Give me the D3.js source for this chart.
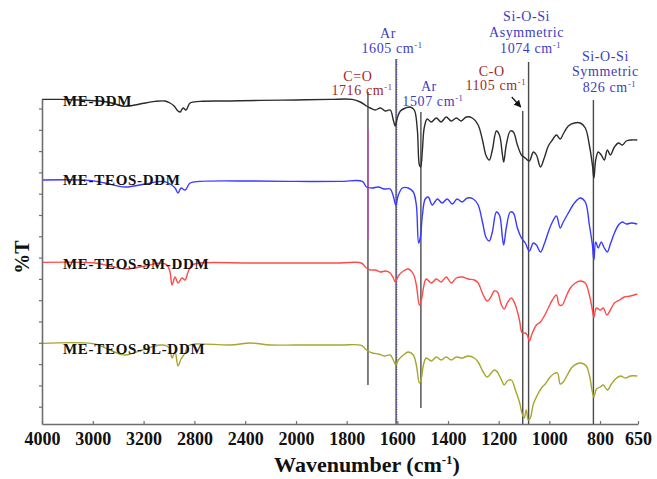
<!DOCTYPE html>
<html>
<head>
<meta charset="utf-8">
<script src="https://cdn.jsdelivr.net/npm/d3@7"></script>
<style>
  body { margin: 0; background: #fff; }
  svg { display: block; }
  text { font-family: "Liberation Serif", "Times New Roman", serif; }
</style>
</head>
<body>
<svg id="chart" width="657" height="479"></svg>
<script>
// FTIR spectra: [wavenumber (cm-1), %T with stacking offset]
const meDDM = [
  [4000,162.3],[3860,162.3],[3702,162],[3544,161.5],[3450,160.5],[3347,158.8],[3229,160],[3110,161.3],
  [3031,161.5],[2992,160.5],[2960,159],[2929,156.5],[2913,156],[2889,158],[2866,157],[2834,160.5],
  [2755,161.3],[2518,161.5],[2281,161.8],[2000,162],[1865,162.3],[1778,162.3],[1746,161],[1722,159],
  [1707,158],[1687,157],[1667,158],[1647,156.5],[1628,157],[1616,152],[1608,149],[1600,153],
  [1588,156.5],[1568,158],[1549,158.5],[1533,157],[1521,147],[1513,129.5],[1508,128.5],[1501,137],
  [1494,148],[1482,152.5],[1466,151],[1446,153],[1427,151],[1407,153.5],[1387,151.5],[1367,153],
  [1348,151.5],[1328,153.5],[1304,153],[1281,149.5],[1264,142],[1249,134],[1237,132],[1225,137],
  [1209,146.5],[1197,144.5],[1185,134.5],[1180,131],[1170,139.5],[1154,146.5],[1142,146],[1126,139.5],
  [1110,134.5],[1095,133],[1079,131.5],[1063,136],[1051,134.5],[1035,128.5],[1020,133],[1004,139],
  [988,142],[972,144.5],[957,142.5],[945,145],[925,149],[901,150.5],[878,150.5],[858,148],
  [842,139.5],[830,129.5],[824,123],[817,132],[807,136],[795,134.5],[783,132],[771,137],
  [759,134.5],[743,138.5],[727,140.5],[712,139.5],[696,141.5],[676,142],[653,142]
];
const meTeosDDM = [
  [4000,122],[3623,121.8],[3505,120.5],[3347,118.5],[3189,120],[3047,121.3],[2992,120],[2952,118],
  [2929,115.5],[2905,118],[2873,117],[2834,120.5],[2755,121.3],[2360,121.5],[2000,121.3],[1825,121.3],
  [1738,121.3],[1722,118.5],[1699,118],[1675,118.5],[1651,117.5],[1628,117.5],[1616,114],[1606,109.5],
  [1596,114.5],[1580,118],[1557,118],[1537,116],[1525,109.5],[1516,90.5],[1509,93.5],[1501,104.5],
  [1490,112.5],[1478,113.5],[1462,109.5],[1442,112.5],[1423,110.5],[1403,112.5],[1383,110],[1364,112.5],
  [1344,111],[1324,113],[1300,112.5],[1281,109.5],[1264,101],[1249,93],[1237,91.5],[1225,96],
  [1209,106],[1197,104.5],[1185,93],[1180,89.5],[1170,98],[1154,106],[1142,105.5],[1126,98],
  [1110,93],[1095,90.5],[1079,86.5],[1063,90.5],[1051,89.5],[1035,86],[1020,90],[1004,96],
  [988,101],[972,104],[957,98],[945,101],[925,105.5],[901,110.5],[878,113],[858,111],
  [842,99.5],[830,89.5],[824,82],[817,91],[807,88],[795,91],[783,88],[771,86],
  [759,90],[743,95.5],[727,99.5],[712,101],[696,100],[676,100.5],[653,100]
];
const meTeos9mDDM = [
  [4000,80.8],[3584,80.5],[3466,79],[3347,77.5],[3189,79],[3071,80.5],[3016,79.5],[2992,76],
  [2976,69.5],[2952,73.5],[2929,70.5],[2897,73],[2873,72],[2850,76],[2818,79.5],[2755,80.5],
  [2360,80.5],[2000,80.5],[1825,80.5],[1742,80.5],[1722,78],[1707,77],[1687,77],[1667,76],
  [1647,76.5],[1628,75.5],[1616,73],[1608,71],[1596,74],[1576,76.5],[1557,77.5],[1537,75],
  [1525,69.5],[1513,59.5],[1505,62],[1497,68],[1486,72.5],[1466,70.5],[1446,72.5],[1427,71],
  [1407,73.5],[1387,70.5],[1367,73],[1344,73.5],[1320,72.5],[1296,72],[1281,70.5],[1261,64.5],
  [1245,61.5],[1233,63],[1217,66.5],[1205,66],[1189,59.5],[1178,57.5],[1166,60.5],[1150,63],
  [1134,59.5],[1118,52],[1107,45.5],[1095,45.5],[1087,44.5],[1079,41.5],[1067,45.5],[1051,49.5],
  [1035,51],[1020,54],[1004,58],[988,62],[972,64.5],[961,59.5],[949,59.5],[933,64],
  [917,68],[897,70.5],[878,71.5],[858,70.5],[842,64.5],[830,57],[824,53.5],[814,58],
  [799,57],[787,58],[773,54.5],[759,57],[743,60.5],[723,62],[704,63.5],[680,64],[653,65]
];
const meTeos9lDDM = [
  [4000,40.3],[3584,40],[3466,37],[3347,34.5],[3189,37.5],[3071,39.5],[3016,39],[2992,37],
  [2976,33],[2952,36],[2929,29],[2905,32.5],[2873,35.5],[2850,39],[2795,40],[2518,39.5],
  [2360,40.5],[2202,39.5],[2000,39.5],[1825,39.5],[1742,39.3],[1722,37],[1699,35.5],[1675,35],
  [1651,34],[1628,34.5],[1616,32],[1606,29.5],[1596,32],[1576,34.5],[1557,36],[1537,34.5],
  [1525,29.5],[1513,20.5],[1505,23],[1497,29.5],[1486,33],[1466,31.5],[1446,33.5],[1427,32],
  [1407,33.5],[1387,32],[1367,33.5],[1344,33],[1320,34],[1296,33],[1281,31],[1261,26],
  [1245,23.5],[1233,25],[1217,27],[1205,26],[1189,22],[1178,19.5],[1166,21.5],[1150,22],
  [1134,17],[1118,11],[1107,5],[1099,3],[1091,7],[1083,2],[1075,3],[1063,10],
  [1047,14.5],[1031,18],[1016,20],[1000,23],[984,25],[968,25.5],[957,20],[945,21],
  [929,24.5],[913,28],[893,30],[874,30.5],[854,29],[842,24.5],[830,16],[824,13.5],
  [814,17.5],[799,18.5],[787,19.5],[771,17],[755,20],[739,22.5],[719,24],[700,23],[680,24],[653,24]
];

const seriesNames = ["ME-DDM", "ME-TEOS-DDM", "ME-TEOS-9M-DDM", "ME-TEOS-9L-DDM"];
const seriesData = [meDDM, meTeosDDM, meTeos9mDDM, meTeos9lDDM];
const seriesColors = ["#2b2b2b", "#3a3aff", "#ff4a4a", "#a6a62e"];
// %T level at which each sample name is written
const seriesLabelLevels = [161, 121.5, 79.5, 37];

// Axis ticks (the second label is printed as "3000")
const xTickValues = [4000, 3600, 3200, 2800, 2400, 2000, 1800, 1600, 1400, 1200, 1000, 800, 650];
const xTickLabels = ["4000", "3000", "3200", "2800", "2400", "2000", "1800", "1600", "1400", "1200", "1000", "800", "650"];
const yTickValues = d3.range(15).map(i => 8.65 + i * 10.65);

// Assigned bands: wavenumber, marker extent in %T
const bandWavenumbers = [1716, 1605, 1507, 1105, 1074, 826];
const bandTops = [166, 182.5, 156, 156.5, 181, 162];
const bandBottoms = [19.5, 0, 8, 0, 0, 0];
const bandLabelLines = [
  ["C=O", "1716 cm"],
  ["Ar", "1605 cm"],
  ["Ar", "1507 cm"],
  ["C-O", "1105 cm"],
  ["Si-O-Si", "Asymmetric", "1074 cm"],
  ["Si-O-Si", "Symmetric", "826 cm"]
];
const bandLabelColors = ["#a0292b", "#3d3dbf", "#3d3dbf", "#a0292b", "#3d3dbf", "#3d3dbf"];

const svg = d3.select("#chart");

// Broken wavenumber axis: 400 cm-1 per division above 2000, 200 below
const x = d3.scaleLinear().domain([4000, 2000, 650]).range([42, 296, 638]);
const y = d3.scaleLinear().domain([0, 162.5]).range([424, 99]);

const axisColor = "#6e6e6e";

// Spectra
const line = d3.line()
  .x(d => x(d[0]))
  .y(d => y(d[1]))
  .curve(d3.curveCatmullRom.alpha(0.5));

// Band marker lines
const bandX = (w, i) => x(w) + (i === 4 ? -2 : 0);
svg.append("g").selectAll("line")
  .data(bandWavenumbers)
  .join("line")
  .attr("x1", (d, i) => bandX(d, i))
  .attr("x2", (d, i) => bandX(d, i))
  .attr("y1", (d, i) => y(bandTops[i]))
  .attr("y2", (d, i) => y(bandBottoms[i]))
  .attr("stroke", "#4a4a4a")
  .attr("stroke-width", 1.4);

// tinted segment on the C=O marker and dotted overlay on the 1605 marker
svg.append("line")
  .attr("x1", x(1716)).attr("x2", x(1716))
  .attr("y1", y(147)).attr("y2", y(92.5))
  .attr("stroke", "#d23cc8").attr("stroke-width", 1.2);
svg.append("line")
  .attr("x1", x(1605) + 0.8).attr("x2", x(1605) + 0.8)
  .attr("y1", y(182.5)).attr("y2", y(0))
  .attr("stroke", "#4040c0").attr("stroke-width", 1)
  .attr("stroke-dasharray", "1,1.5");

svg.append("g")
  .selectAll("path")
  .data(seriesData)
  .join("path")
  .attr("d", line)
  .attr("fill", "none")
  .attr("stroke", (d, i) => seriesColors[i])
  .attr("stroke-width", 1.4)
  .attr("stroke-linejoin", "round");

// Axes
const xAxis = d3.axisBottom(x)
  .tickValues(xTickValues)
  .tickFormat((d, i) => xTickLabels[i])
  .tickSizeInner(-3)
  .tickSizeOuter(0)
  .tickPadding(8);
const gx = svg.append("g").attr("transform", "translate(0,424)").call(xAxis);
gx.select(".domain").attr("stroke", axisColor).attr("stroke-width", 1.6);
gx.selectAll(".tick line").attr("stroke", axisColor).attr("stroke-width", 1.2);
gx.selectAll(".tick text")
  .attr("fill", "#111")
  .attr("font-family", "'Liberation Serif', serif")
  .attr("font-weight", "bold")
  .attr("font-size", 18)
  .attr("dy", "0.72em");

const yAxis = d3.axisLeft(y)
  .tickValues(yTickValues)
  .tickFormat("")
  .tickSizeInner(3)
  .tickSizeOuter(0);
const gy = svg.append("g").attr("transform", "translate(42,0)").call(yAxis);
gy.select(".domain").attr("stroke", axisColor).attr("stroke-width", 1.6);
gy.selectAll(".tick line").attr("stroke", axisColor).attr("stroke-width", 1.2);

// Axis titles
const xTitle = svg.append("text")
  .attr("x", 367).attr("y", 472)
  .attr("text-anchor", "middle")
  .attr("font-weight", "bold")
  .attr("font-size", 22)
  .attr("fill", "#111");
xTitle.append("tspan").text("Wavenumber (cm");
xTitle.append("tspan").attr("font-size", 13).attr("dy", -8).text("-1");
xTitle.append("tspan").attr("dy", 8).text(")");

svg.append("text")
  .attr("transform", "translate(29,257) rotate(-90)")
  .attr("text-anchor", "middle")
  .attr("font-weight", "bold")
  .attr("font-size", 20)
  .attr("fill", "#111")
  .text("%T");

// Sample names
svg.append("g").selectAll("text")
  .data(seriesNames)
  .join("text")
  .attr("x", 63)
  .attr("y", (d, i) => y(seriesLabelLevels[i]) + 4)
  .attr("font-weight", "bold")
  .attr("font-size", 15)
  .attr("letter-spacing", 0.7)
  .attr("fill", "#111")
  .text(d => d);

// Band annotations: [dx from band line, baseline of first line]
const labelAnchors = [[-10, 80.5], [-8, 37.5], [8, 91], [-31, 76], [-4, 21], [12, 61]];
const lineGap = [14, 15, 15, 14, 16, 15.3];
bandLabelLines.forEach((lines, i) => {
  const cx = x(bandWavenumbers[i]) + labelAnchors[i][0];
  lines.forEach((t, j) => {
    const isWave = j === lines.length - 1;
    const txt = svg.append("text")
      .attr("x", cx + (isWave ? 4 : 0))
      .attr("y", labelAnchors[i][1] + j * lineGap[i])
      .attr("text-anchor", "middle")
      .attr("font-size", 14)
      .attr("letter-spacing", 0.6)
      .attr("fill", bandLabelColors[i]);
    txt.append("tspan").text(t);
    if (isWave) {
      txt.append("tspan").attr("font-size", 8.5).attr("dy", -5).text("-1");
    }
  });
});

// Arrow pointing at the C-O band
svg.append("defs").append("marker")
  .attr("id", "arrowHead")
  .attr("viewBox", "0 0 10 10")
  .attr("refX", 9).attr("refY", 5)
  .attr("markerWidth", 6).attr("markerHeight", 6)
  .attr("orient", "auto")
  .append("path")
  .attr("d", "M0,0 L10,5 L0,10 z")
  .attr("fill", "#111");
svg.append("line")
  .attr("x1", x(1105) - 11).attr("y1", y(163.5))
  .attr("x2", x(1105) - 2).attr("y2", y(158.5))
  .attr("stroke", "#111").attr("stroke-width", 1.2)
  .attr("marker-end", "url(#arrowHead)");
</script>
</body>
</html>
